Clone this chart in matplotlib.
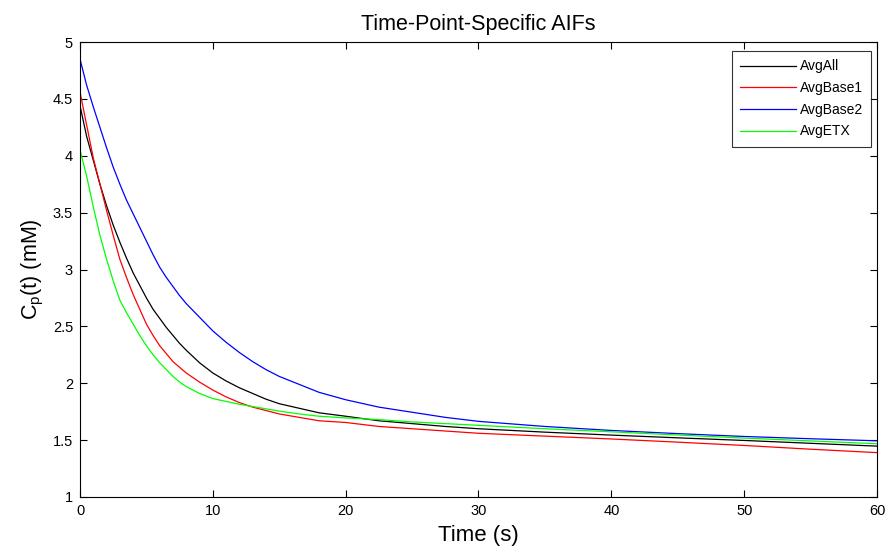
import matplotlib
matplotlib.use("Agg")
import matplotlib.pyplot as plt

plt.rcParams['font.family'] = ['Liberation Sans', 'DejaVu Sans']

t = [0, 0.5, 1, 1.5, 2, 2.5, 3, 3.5, 4, 4.5, 5, 5.5, 6, 6.5, 7, 7.5, 8, 9, 10,
     11, 12, 13, 14, 15, 16.5, 18, 20, 22.5, 25, 27.5, 30, 35, 40, 45, 50, 55, 60]

avg_all = [4.44, 4.17, 3.96, 3.75, 3.56, 3.39, 3.24, 3.10, 2.97, 2.86, 2.75,
           2.65, 2.57, 2.49, 2.42, 2.35, 2.29, 2.18, 2.09, 2.02, 1.96, 1.91,
           1.86, 1.82, 1.78, 1.74, 1.71, 1.67, 1.645, 1.62, 1.60, 1.57, 1.544,
           1.52, 1.497, 1.472, 1.447]
avg_base1 = [4.56, 4.27, 3.98, 3.75, 3.52, 3.30, 3.09, 2.93, 2.78, 2.65, 2.52,
             2.42, 2.33, 2.26, 2.19, 2.14, 2.09, 2.01, 1.94, 1.88, 1.83, 1.79,
             1.76, 1.73, 1.70, 1.67, 1.655, 1.62, 1.60, 1.58, 1.56, 1.535,
             1.51, 1.482, 1.453, 1.42, 1.39]
avg_base2 = [4.85, 4.62, 4.43, 4.25, 4.07, 3.90, 3.75, 3.61, 3.49, 3.37, 3.25,
             3.13, 3.02, 2.93, 2.85, 2.77, 2.70, 2.58, 2.46, 2.36, 2.27, 2.19,
             2.12, 2.06, 1.99, 1.92, 1.855, 1.79, 1.745, 1.70, 1.665, 1.62,
             1.585, 1.557, 1.532, 1.512, 1.494]
avg_etx = [4.05, 3.82, 3.55, 3.30, 3.09, 2.90, 2.73, 2.62, 2.52, 2.42, 2.33,
           2.25, 2.18, 2.12, 2.06, 2.01, 1.97, 1.91, 1.865, 1.84, 1.815, 1.795,
           1.775, 1.755, 1.73, 1.71, 1.695, 1.68, 1.66, 1.645, 1.63, 1.60,
           1.573, 1.545, 1.518, 1.493, 1.468]

series = [("AvgAll", avg_all, "#000000"),
          ("AvgBase1", avg_base1, "#ff0000"),
          ("AvgBase2", avg_base2, "#0000ff"),
          ("AvgETX", avg_etx, "#00ff00")]

xticks = [0, 10, 20, 30, 40, 50, 60]
yticks = [1, 1.5, 2, 2.5, 3, 3.5, 4, 4.5, 5]
ytick_labels = ["1", "1.5", "2", "2.5", "3", "3.5", "4", "4.5", "5"]

fig = plt.figure(figsize=(8.88, 5.53), dpi=100)
ax = fig.add_axes([0.0901, 0.1013, 0.8975, 0.8227])

for name, vals, col in series:
    ax.plot(t, vals, color=col, lw=0.9, label=name)

ax.set_xlim(0, 60)
ax.set_ylim(1, 5)
ax.set_xticks(xticks)
ax.set_xticklabels([str(v) for v in xticks])
ax.set_yticks(yticks)
ax.set_yticklabels(ytick_labels)
ax.tick_params(direction='in', top=True, right=True, length=5, width=0.8,
               labelsize=10.5, colors='#000000', pad=5)
for sp in ax.spines.values():
    sp.set_linewidth(0.8)
    sp.set_color('#000000')

ax.set_title("Time-Point-Specific AIFs", fontsize=15.5, pad=9)
ax.set_xlabel("Time (s)", fontsize=16, labelpad=5)
ax.set_ylabel(r"C$_\mathregular{p}$(t) (mM)", fontsize=15.5, labelpad=5)

leg = ax.legend(loc='upper right', bbox_to_anchor=(0.993, 0.98), fontsize=10,
                frameon=True, fancybox=False, edgecolor='#000000',
                handlelength=4.0, handletextpad=0.3, borderpad=0.6,
                labelspacing=0.55, borderaxespad=0)
leg.get_frame().set_linewidth(0.8)

fig.savefig("out.png", dpi=100, facecolor='white')
